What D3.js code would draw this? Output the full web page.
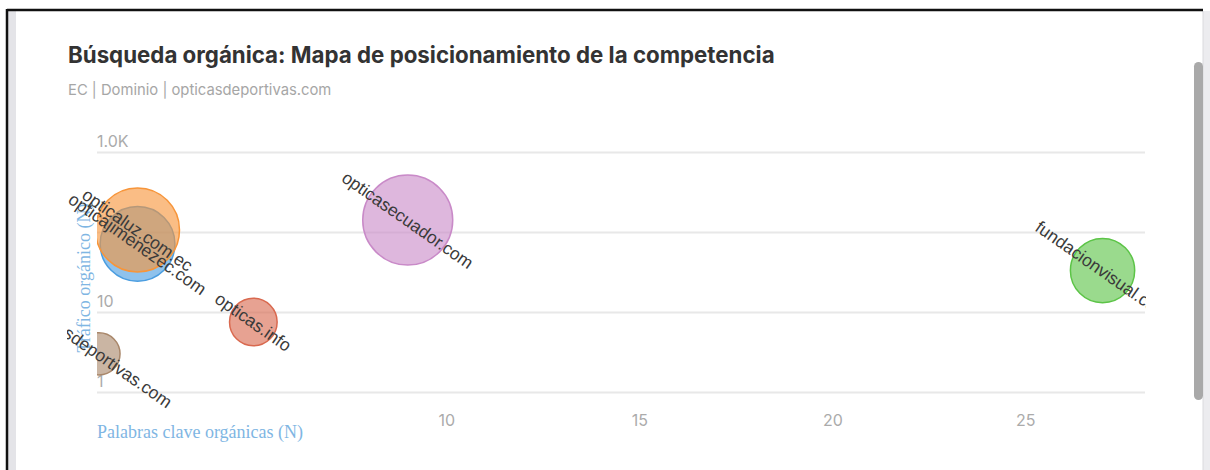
<!DOCTYPE html>
<html>
<head>
<meta charset="utf-8">
<script src="https://cdn.jsdelivr.net/npm/d3@7"></script>
<style>
	body { margin: 0; background: #fff; }
	svg { display: block; }
	.title { font: 700 22.3px Inter, "Noto Sans", sans-serif; fill: #333; }
	.subtitle { font: 14.8px Inter, "Noto Sans", sans-serif; fill: #a6a6a6; }
	.tick-label { font: 16px Inter, "Noto Sans", sans-serif; fill: #ababab; }
	.axis-title { font: 18px "Liberation Serif", "DejaVu Serif", serif; fill: #7fb6e3; }
	.bubble-label { font: 17.5px "Liberation Sans", Arial, sans-serif; fill: #3a3a3a; }
</style>
</head>
<body>
<div id="chart"></div>
<script>
const domains = ['opticasdeportivas.com', 'opticajimenezec.com', 'opticaluz.com.ec', 'opticas.info', 'opticasecuador.com', 'fundacionvisual.com'];
const keywords = [1, 2, 2, 5, 9, 27];
const traffic = [3, 71, 106, 7.5, 141, 33];
const bubbleSize = [22, 69, 87, 28, 100, 51];
const colors = ['#a9876a', '#4a9de0', '#f7953a', '#d9694f', '#c98ac8', '#5cc447'];
const xTicks = [10, 15, 20, 25];
const yTicks = [1, 10, 100, 1000];

const width = 1210;
const height = 470;
const plot = {left: 97, right: 1145, top: 152, bottom: 392};

const svg = d3.select('#chart').append('svg')
	.attr('width', width)
	.attr('height', height);

// page frame + scrollbar
function drawFrame() {
	svg.append('rect').attr('x', 8).attr('y', 11).attr('width', 8).attr('height', height)
		.attr('fill', '#e4e4e8');
	svg.append('rect').attr('x', 1203).attr('y', 11).attr('width', 7).attr('height', height)
		.attr('fill', '#ececef');
	svg.append('line').attr('x1', 1203).attr('x2', 1203).attr('y1', 11).attr('y2', height)
		.attr('stroke', '#dadade');
	svg.append('rect').attr('x', 1194).attr('y', 62).attr('width', 9).attr('height', 338)
		.attr('rx', 4.5).attr('fill', '#a9a9a9');
	svg.append('line').attr('x1', 7).attr('x2', 1203).attr('y1', 10).attr('y2', 10)
		.attr('stroke', '#111').attr('stroke-width', 2.5);
	svg.append('line').attr('x1', 7).attr('x2', 7).attr('y1', 9).attr('y2', height)
		.attr('stroke', '#111').attr('stroke-width', 2.5);
}

function drawHeader() {
	svg.append('text').attr('class', 'title').attr('x', 68).attr('y', 63)
		.text('Búsqueda orgánica: Mapa de posicionamiento de la competencia');
	svg.append('text').attr('class', 'subtitle').attr('x', 68).attr('y', 95)
		.text('EC | Dominio | opticasdeportivas.com');
}

drawFrame();
drawHeader();

const x = d3.scaleLinear().domain([0.95, 28.1]).range([plot.left, plot.right]);
const y = d3.scaleLog().domain([1, 1000]).range([plot.bottom, plot.top]);
const r = d3.scaleSqrt().domain([0, d3.max(bubbleSize)]).range([0, 45]);

const defs = svg.append('defs');
defs.append('clipPath').attr('id', 'plot-clip').append('rect')
	.attr('x', plot.left).attr('y', 100)
	.attr('width', plot.right - plot.left).attr('height', height - 100);
defs.append('clipPath').attr('id', 'label-clip').append('rect')
	.attr('x', 67).attr('y', 100)
	.attr('width', plot.right + 1 - 67).attr('height', height - 100);

// y gridlines and labels
const yAxis = svg.append('g')
	.attr('transform', `translate(${plot.left},0)`)
	.call(d3.axisRight(y)
		.tickValues(yTicks)
		.tickSize(plot.right - plot.left)
		.tickFormat(d => d >= 1000 ? d3.format('.1f')(d / 1000) + 'K' : d));
yAxis.select('.domain').remove();
yAxis.selectAll('.tick line').attr('stroke', '#e8e8e8').attr('stroke-width', 2);
yAxis.selectAll('.tick text')
	.attr('class', 'tick-label')
	.attr('x', 0)
	.attr('dy', -6)
	.attr('text-anchor', 'start');

// x labels
const xAxis = svg.append('g')
	.attr('transform', `translate(0,${plot.bottom})`)
	.call(d3.axisBottom(x).tickValues(xTicks).tickSize(0).tickPadding(0));
xAxis.select('.domain').remove();
xAxis.selectAll('.tick text')
	.attr('class', 'tick-label')
	.attr('y', 34)
	.attr('dy', 0);

svg.append('text').attr('class', 'axis-title')
	.attr('x', plot.left).attr('y', 438)
	.text('Palabras clave orgánicas (N)');
svg.append('text').attr('class', 'axis-title')
	.attr('transform', `translate(90,${(plot.top + plot.bottom) / 2 + 6}) rotate(-90)`)
	.attr('text-anchor', 'middle')
	.text('Tráfico orgánico (N)');

const points = domains.map((d, i) => ({
	domain: d,
	kw: keywords[i],
	traffic: traffic[i],
	size: bubbleSize[i],
	color: colors[i]
}));

svg.append('g')
	.attr('clip-path', 'url(#plot-clip)')
	.selectAll('circle')
	.data(points)
	.join('circle')
	.attr('cx', d => x(d.kw))
	.attr('cy', d => y(d.traffic))
	.attr('r', d => r(d.size))
	.attr('fill', d => d.color)
	.attr('fill-opacity', 0.62)
	.attr('stroke', d => d.color)
	.attr('stroke-width', 1.5);

svg.append('g')
	.attr('clip-path', 'url(#label-clip)')
	.selectAll('text')
	.data(points)
	.join('text')
	.attr('class', 'bubble-label')
	.attr('text-anchor', 'middle')
	.attr('dy', '0.35em')
	.attr('transform', d => `translate(${x(d.kw)},${y(d.traffic)}) rotate(35)`)
	.text(d => d.domain);
</script>
</body>
</html>
